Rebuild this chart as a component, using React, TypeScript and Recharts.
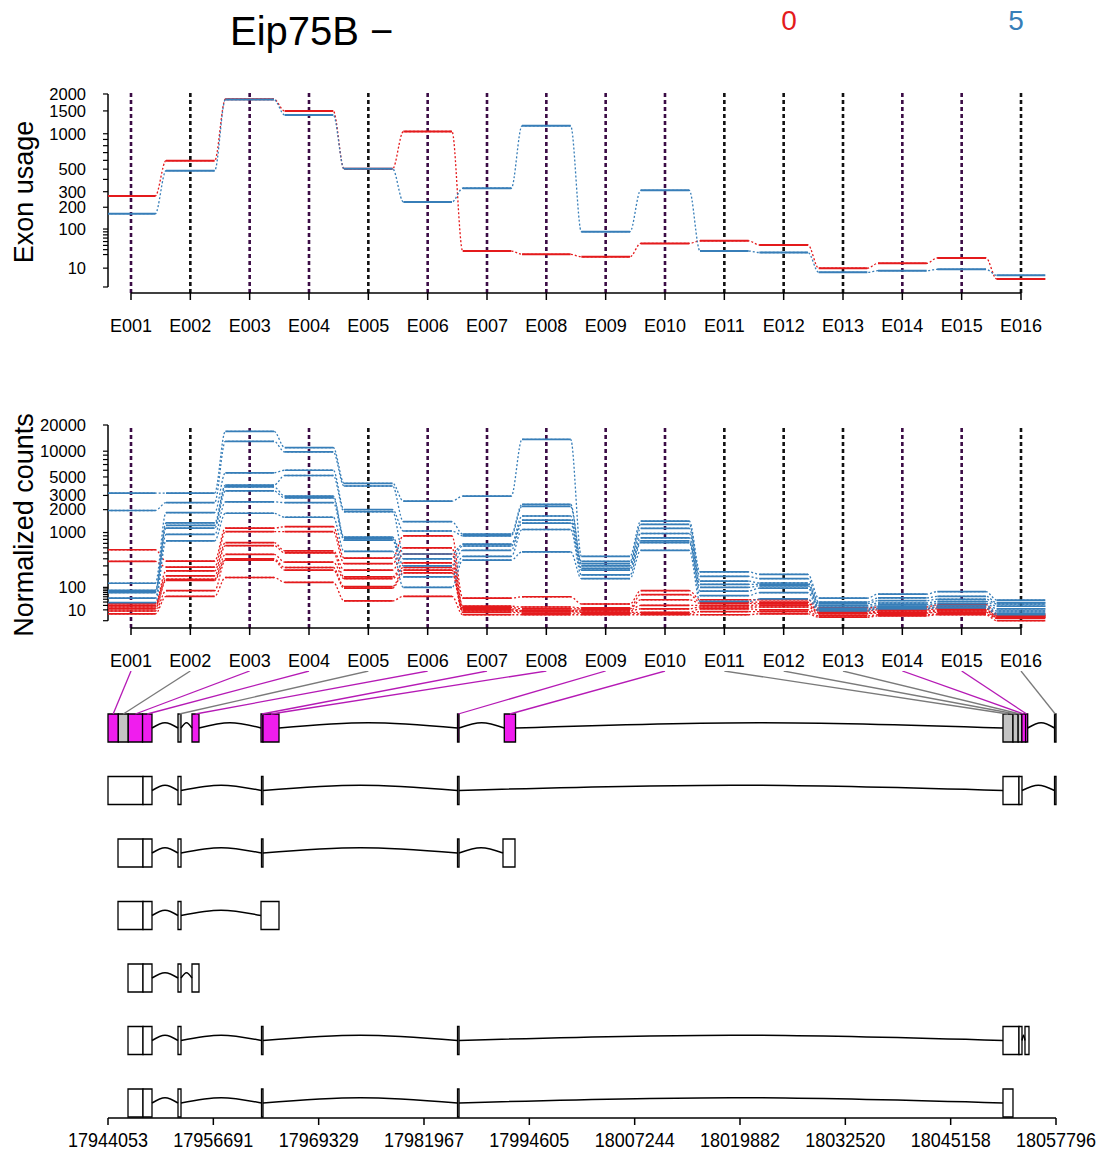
import React from "react";
import { LineChart, Line, XAxis, YAxis, ReferenceLine, ReferenceArea } from "recharts";

const FONT = '"Liberation Sans", Arial, Helvetica, sans-serif';
const RED = "#E41A1C";
const BLUE = "#377EB8";
const SIG_FILL = "#F01DEE";
const SIG_LINE = "#B51AB5";
const GREY_FILL = "#C4C4C4";
const GREY_LINE = "#7A7A7A";

const exonIds = ["E001", "E002", "E003", "E004", "E005", "E006", "E007", "E008", "E009", "E010", "E011", "E012", "E013", "E014", "E015", "E016"];
const exonSig = [true, false, true, true, false, true, true, true, true, true, false, false, false, true, true, false];

// fitted exon usage per condition
const usage0 = [270, 596, 1830, 1496, 504, 1042, 37, 30.5, 26, 55, 62, 51, 9.9, 15.8, 24, 1.8];
const usage5 = [166, 484, 1820, 1400, 504, 231, 326, 1155, 90.5, 310, 37, 34, 6, 7.5, 8.8, 3.8];

// normalized counts, one row per sample
const counts0 = [
  [560, 365, 1150, 1200, 410, 900, 44, 50, 24, 80, 38, 38, 14, 16, 22, 4],
  [360, 285, 1030, 1030, 330, 600, 18, 16, 14, 60, 30, 30, 10, 12, 16, 3],
  [25, 240, 720, 540, 250, 480, 15, 12, 12, 38, 26, 25, 8, 10, 12, 2],
  [20, 190, 650, 500, 180, 340, 12, 9, 10, 20, 20, 21, 6, 8, 10, 2],
  [16, 160, 475, 350, 165, 280, 10, 8, 8, 12, 16, 16, 5, 6, 8, 1],
  [12, 150, 400, 280, 105, 250, 8, 7, 6, 6, 12, 10, 4, 5, 6, 1],
  [8, 80, 380, 250, 95, 220, 6, 5, 5, 4, 7, 7, 2, 3, 4, 0.5],
  [4, 52, 175, 135, 34, 52, 3, 3, 3, 3, 3, 4, 1, 2, 3, 0],
];
const counts5 = [
  [3200, 3200, 16900, 11000, 4200, 2550, 2950, 13700, 440, 1420, 230, 205, 44, 62, 75, 37],
  [1950, 2450, 13000, 9800, 3900, 1400, 950, 2330, 360, 1290, 185, 165, 30, 45, 52, 28],
  [128, 1830, 5600, 6000, 2000, 1050, 900, 2200, 330, 1140, 145, 130, 25, 35, 40, 24],
  [82, 1350, 4000, 5200, 1880, 480, 680, 1660, 300, 970, 120, 120, 20, 27, 32, 18],
  [75, 1250, 3800, 2950, 860, 400, 640, 1470, 270, 840, 100, 110, 16, 22, 26, 12],
  [70, 1150, 3400, 2800, 820, 300, 550, 1340, 250, 760, 78, 95, 12, 18, 20, 8],
  [44, 940, 2500, 2450, 780, 180, 440, 1100, 200, 720, 55, 70, 10, 14, 16, 5],
  [28, 760, 1800, 1600, 530, 100, 380, 520, 165, 550, 32, 41, 8, 12, 14, 3],
];

const usageTicks = [0, 10, 30, 40, 50, 60, 70, 80, 90, 100, 200, 300, 400, 500, 600, 700, 800, 900, 1000, 1500, 2000];
const usageLabelled = [10, 100, 200, 300, 500, 1000, 1500, 2000];
const countTicks = [0, 10, 20, 30, 40, 50, 60, 70, 80, 90, 100, 200, 300, 400, 500, 600, 700, 800, 900, 1000, 2000, 3000, 4000, 5000, 6000, 7000, 8000, 9000, 10000, 20000];
const countLabelled = [10, 100, 1000, 2000, 3000, 5000, 10000, 20000];

const genomeTicks = [17944053, 17956691, 17969329, 17981967, 17994605, 18007244, 18019882, 18032520, 18045158, 18057796];

// exon bins (genomic start, end)
const exonBins: [number, number][] = [
  [17944053, 17945290], [17945290, 17946480], [17946480, 17948200], [17948200, 17949330],
  [17952450, 17952810], [17954130, 17954970], [17962410, 17962650], [17962650, 17964570],
  [17985990, 17986170], [17991600, 17992950], [18051435, 18052635], [18052635, 18053255],
  [18053255, 18053700], [18053700, 18054150], [18054150, 18054400], [18057620, 18057796],
];

const transcripts: [number, number][][] = [
  [[17944053, 17948252], [17948252, 17949332], [17952452, 17952812], [17962470, 17962650], [17985990, 17986170], [18051435, 18053355], [18053355, 18053715], [18057620, 18057796]],
  [[17945253, 17948252], [17948252, 17949332], [17952452, 17952812], [17962470, 17962650], [17985990, 17986170], [17991445, 17992885]],
  [[17945253, 17948252], [17948252, 17949332], [17952452, 17952812], [17962410, 17964570]],
  [[17946453, 17948252], [17948252, 17949332], [17952452, 17952812], [17954131, 17954971]],
  [[17946453, 17948252], [17948252, 17949332], [17952452, 17952812], [17962470, 17962650], [17985990, 17986170], [18051435, 18053355], [18053355, 18053715], [18054075, 18054555]],
  [[17946453, 17948252], [17948252, 17949332], [17952452, 17952812], [17962470, 17962650], [17985990, 17986170], [18051435, 18052635]],
];

// layout
const W = 1102;
const PLOT_L = 108;
const PLOT_R = 1072;
const FIRST_X = 131;
const LAST_X = 1021;
const STEP = (LAST_X - FIRST_X) / 15;
const xDomain: [number, number] = [1 - (FIRST_X - PLOT_L) / STEP, 1 + (PLOT_R - FIRST_X) / STEP];
const exonNums = exonIds.map((_, i) => i + 1);
const HALF = 0.41;

const GEN_L = 108;
const GEN_R = 1056;
const G0 = genomeTicks[0];
const G1 = genomeTicks[genomeTicks.length - 1];
const ROW_TOP = -0.912;
const ROW_BOTTOM = 6.24;
const BOX_H = 0.224;
const HUMP = 0.085;

const tr = (v: number) => Math.asinh(Math.sqrt(0.002 * v));

const stepRows = (vals: number[]) => {
  const rows: { x: number; y: number | null }[] = [];
  vals.forEach((v, i) => {
    const c = i + 1;
    rows.push({ x: c - HALF, y: tr(v) }, { x: c + HALF, y: tr(v) }, { x: c + 0.5, y: null });
  });
  return rows;
};
const joinRows = (vals: number[]) =>
  vals.flatMap((v, i) => [
    { x: i + 1 - HALF, y: tr(v) },
    { x: i + 1 + HALF, y: tr(v) },
  ]);

const labelX = (exon: number) => {
  const px = FIRST_X + (exon - 1) * STEP;
  return G0 + ((px - GEN_L) / (GEN_R - GEN_L)) * (G1 - G0);
};

const introns = (boxes: [number, number][]) => {
  const out: [number, number][] = [];
  for (let i = 1; i < boxes.length; i++) {
    if (boxes[i][0] - boxes[i - 1][1] > 100) out.push([boxes[i - 1][1], boxes[i][0]]);
  }
  return out;
};

const tickStyle = { fontSize: 18, fill: "#000", fontFamily: FONT };

type Series = { values: number[]; color: string };

function ExonPanel(props: {
  top: number;
  height: number;
  plotTop: number;
  plotBottom: number;
  yDomain: [number, number];
  ticks: number[];
  labelled: number[];
  yMax: number;
  series: Series[];
  width: number;
}) {
  const { top, height, plotTop, plotBottom, yDomain, ticks, labelled, yMax, series, width } = props;
  const trTicks = ticks.map(tr);
  const fmt = (v: number) => {
    const t = ticks.find((k) => Math.abs(tr(k) - v) < 1e-9);
    return t !== undefined && labelled.includes(t) ? String(t) : "";
  };
  return (
    <div style={{ position: "absolute", left: 0, top }}>
      <LineChart
        width={W}
        height={height}
        margin={{ top: plotTop - top, right: W - PLOT_R, bottom: height - (plotBottom - top) - 40, left: PLOT_L - 60 }}
      >
        <XAxis
          type="number"
          dataKey="x"
          domain={xDomain}
          allowDataOverflow
          ticks={exonNums}
          interval={0}
          tickFormatter={(i: number) => exonIds[i - 1]}
          axisLine={false}
          tickLine={{ stroke: "#000", strokeWidth: 1.5 }}
          tickSize={7}
          tickMargin={19}
          height={40}
          tick={tickStyle}
        />
        <YAxis
          type="number"
          dataKey="y"
          domain={yDomain}
          allowDataOverflow
          ticks={trTicks}
          interval={0}
          tickFormatter={fmt}
          width={60}
          axisLine={false}
          tickLine={{ stroke: "#000", strokeWidth: 1.2 }}
          tickSize={5}
          tickMargin={17}
          tick={{ ...tickStyle, fontSize: 16.5 }}
        />
        {exonNums.map((i) => (
          <ReferenceLine
            key={`v${i}`}
            x={i}
            stroke={exonSig[i - 1] ? "#3B0B45" : "#111"}
            strokeDasharray="4 3"
            strokeWidth={2.6}
          />
        ))}
        <ReferenceLine
          segment={[{ x: xDomain[0], y: 0 }, { x: xDomain[0], y: tr(yMax) }]}
          stroke="#000"
          strokeWidth={1.5}
          ifOverflow="visible"
        />
        <ReferenceLine
          segment={[{ x: 1, y: yDomain[0] }, { x: 16, y: yDomain[0] }]}
          stroke="#000"
          strokeWidth={1.5}
          ifOverflow="visible"
        />
        {series.map((s, k) => (
          <Line
            key={`c${k}`}
            data={joinRows(s.values)}
            dataKey="y"
            type="monotoneX"
            stroke={s.color}
            strokeWidth={1.3}
            strokeDasharray="2 2"
            dot={false}
            activeDot={false}
            isAnimationActive={false}
          />
        ))}
        {series.map((s, k) => (
          <Line
            key={`s${k}`}
            data={stepRows(s.values)}
            dataKey="y"
            type="linear"
            stroke={s.color}
            strokeWidth={width}
            connectNulls={false}
            dot={false}
            activeDot={false}
            isAnimationActive={false}
          />
        ))}
      </LineChart>
    </div>
  );
}

const GenomeTick = (props: any) => {
  const { x, y, payload } = props;
  return (
    <text
      x={x}
      y={y}
      dy={20}
      textAnchor="middle"
      fontSize={21}
      fontFamily={FONT}
      fill="#000"
      textLength={80}
      lengthAdjust="spacingAndGlyphs"
    >
      {payload.value}
    </text>
  );
};

function GenePanel() {
  const rows: { boxes: [number, number][]; fills: string[] }[] = [
    { boxes: exonBins, fills: exonSig.map((s) => (s ? SIG_FILL : GREY_FILL)) },
    ...transcripts.map((t) => ({ boxes: t, fills: t.map(() => "#fff") })),
  ];
  return (
    <div style={{ position: "absolute", left: 0, top: 665 }}>
      <LineChart width={W} height={490} margin={{ top: 6, right: W - GEN_R, bottom: 7, left: GEN_L }}>
        <XAxis
          type="number"
          dataKey="x"
          domain={[G0, G1]}
          allowDataOverflow
          ticks={genomeTicks}
          interval={0}
          tick={<GenomeTick />}
          tickSize={7}
          height={30}
          axisLine={{ stroke: "#000", strokeWidth: 1.5 }}
          tickLine={{ stroke: "#000", strokeWidth: 1.5 }}
        />
        <YAxis type="number" dataKey="y" domain={[ROW_TOP, ROW_BOTTOM]} reversed hide allowDataOverflow />
        {exonBins.map((b, i) => (
          <Line
            key={`k${i}`}
            data={[
              { x: labelX(i + 1), y: ROW_TOP },
              { x: (b[0] + b[1]) / 2, y: -BOX_H },
            ]}
            dataKey="y"
            type="linear"
            stroke={exonSig[i] ? SIG_LINE : GREY_LINE}
            strokeWidth={1.3}
            dot={false}
            activeDot={false}
            isAnimationActive={false}
          />
        ))}
        {rows.map((r, ri) =>
          introns(r.boxes).map((g, gi) => (
            <Line
              key={`i${ri}-${gi}`}
              data={[
                { x: g[0], y: ri },
                { x: (g[0] + g[1]) / 2, y: ri - HUMP },
                { x: g[1], y: ri },
              ]}
              dataKey="y"
              type="monotoneX"
              stroke="#000"
              strokeWidth={1.5}
              dot={false}
              activeDot={false}
              isAnimationActive={false}
            />
          ))
        )}
        {rows.map((r, ri) =>
          r.boxes.map((b, bi) => (
            <ReferenceArea
              key={`b${ri}-${bi}`}
              x1={b[0]}
              x2={b[1]}
              y1={ri - BOX_H}
              y2={ri + BOX_H}
              fill={r.fills[bi]}
              fillOpacity={1}
              stroke="#000"
              strokeWidth={1.3}
              ifOverflow="visible"
            />
          ))
        )}
      </LineChart>
    </div>
  );
}

export default function App() {
  const usageSeries: Series[] = [
    { values: usage0, color: RED },
    { values: usage5, color: BLUE },
  ];
  const countSeries: Series[] = [
    ...counts0.map((v) => ({ values: v, color: RED })),
    ...counts5.map((v) => ({ values: v, color: BLUE })),
  ];
  return (
    <div style={{ position: "absolute", left: 0, top: 0, width: W, height: 1155, background: "#fff", overflow: "hidden" }}>
      <ExonPanel
        top={0}
        height={345}
        plotTop={93}
        plotBottom={293}
        yDomain={[-0.045, 1.451]}
        ticks={usageTicks}
        labelled={usageLabelled}
        yMax={2000}
        series={usageSeries}
        width={2}
      />
      <ExonPanel
        top={345}
        height={335}
        plotTop={425}
        plotBottom={628}
        yDomain={[-0.0948, tr(20000)]}
        ticks={countTicks}
        labelled={countLabelled}
        yMax={20000}
        series={countSeries}
        width={1.7}
      />
      <GenePanel />
      <svg width={W} height={1155} style={{ position: "absolute", left: 0, top: 0, pointerEvents: "none" }}>
        <text x={230} y={45} fontSize={40} fontFamily={FONT} fill="#000">
          Eip75B −
        </text>
        <text x={789} y={30} fontSize={28} fontFamily={FONT} fill={RED} textAnchor="middle">
          0
        </text>
        <text x={1016} y={30} fontSize={28} fontFamily={FONT} fill={BLUE} textAnchor="middle">
          5
        </text>
        <text transform="translate(33,192) rotate(-90)" fontSize={27} fontFamily={FONT} fill="#000" textAnchor="middle">
          Exon usage
        </text>
        <text transform="translate(33,525) rotate(-90)" fontSize={27} fontFamily={FONT} fill="#000" textAnchor="middle">
          Normalized counts
        </text>
      </svg>
    </div>
  );
}
